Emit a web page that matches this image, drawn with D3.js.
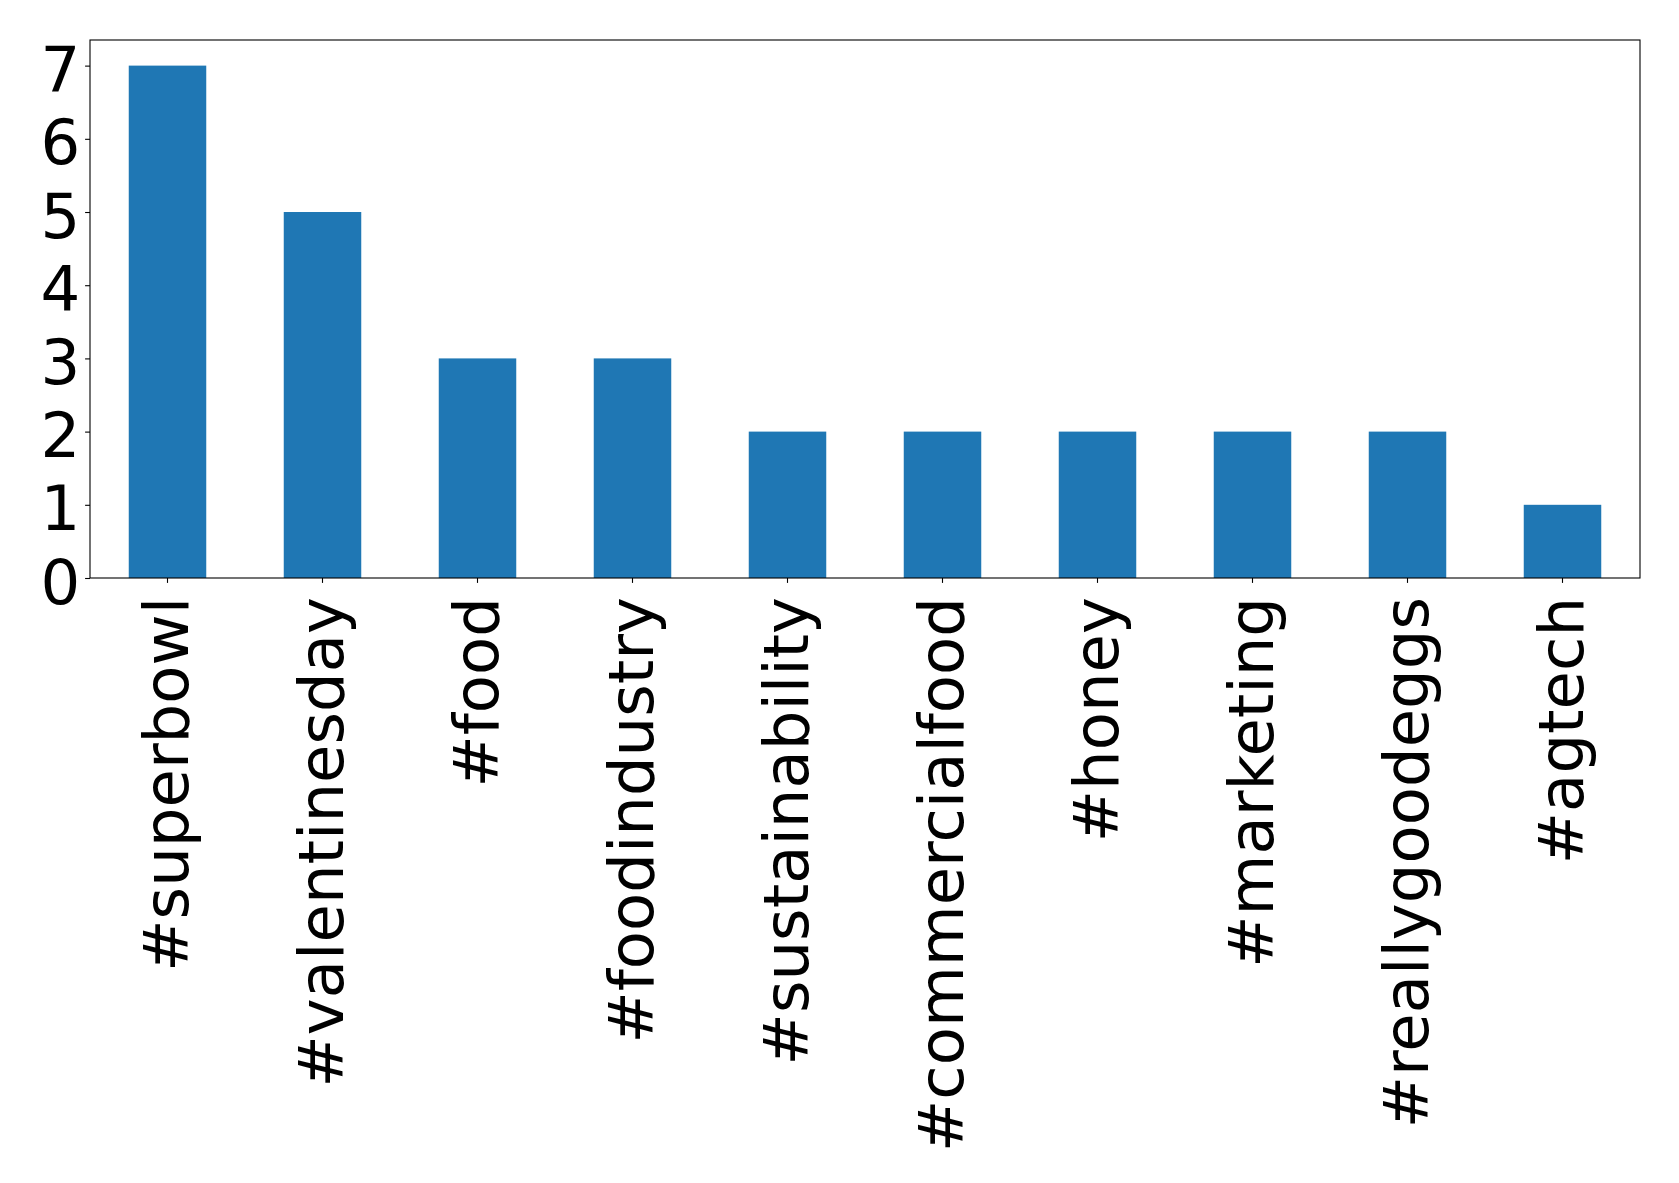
<!DOCTYPE html>
<html><head><meta charset="utf-8">
<script src="https://cdn.jsdelivr.net/npm/d3@7"></script>
<style>html,body{margin:0;padding:0;background:#fff;}</style>
</head><body>
<script>
const categories = ["#superbowl","#valentinesday","#food","#foodindustry","#sustainability","#commercialfood","#honey","#marketing","#reallygoodeggs","#agtech"];
const values = [7,5,3,3,2,2,2,2,2,1];
const yTicks = [0,1,2,3,4,5,6,7];

const W = 1679, H = 1183;
const m = {left: 90, right: 1640, top: 40, bottom: 578};
const fs = 62.5;
const svg = d3.select("body").append("svg").attr("width", W).attr("height", H)
  .style("font-family", "'DejaVu Sans'");

const x = d3.scaleBand().domain(categories).range([m.left, m.right]).paddingInner(0.5).paddingOuter(0.25);
const y = d3.scaleLinear().domain([0, 7 * 1.05]).range([m.bottom, m.top]);

svg.append("g").selectAll("rect").data(values).join("rect")
  .attr("x", (d, i) => x(categories[i]))
  .attr("width", x.bandwidth())
  .attr("y", d => y(d))
  .attr("height", d => y(0) - y(d))
  .attr("fill", "#1f77b4");

// frame
svg.append("rect").attr("x", m.left).attr("y", m.top)
  .attr("width", m.right - m.left).attr("height", m.bottom - m.top)
  .attr("fill", "none").attr("stroke", "#000").attr("stroke-width", 1.1);

// y axis
const yg = svg.append("g").attr("transform", `translate(${m.left},0)`)
  .call(d3.axisLeft(y).tickValues(yTicks).tickFormat(d3.format("d")).tickSize(4.9).tickPadding(4.9));
yg.select(".domain").remove();
yg.selectAll("line").attr("stroke", "#000").attr("stroke-width", 1.1);
yg.selectAll("text").attr("font-size", fs).attr("fill", "#000").attr("font-family", "'DejaVu Sans'").attr("dy", "0.4em");

// x axis
const xg = svg.append("g").attr("transform", `translate(0,${m.bottom})`)
  .call(d3.axisBottom(x).tickSize(4.9).tickPadding(4.9));
xg.select(".domain").remove();
xg.selectAll("line").attr("stroke", "#000").attr("stroke-width", 1.1);
xg.selectAll("text").attr("font-size", fs).attr("fill", "#000").attr("font-family", "'DejaVu Sans'")
  .attr("text-anchor", "end")
  .attr("transform", "translate(0,19) rotate(-90)")
  .attr("x", 0).attr("y", 0).attr("dy", "0.33em");
</script>
</body></html>
